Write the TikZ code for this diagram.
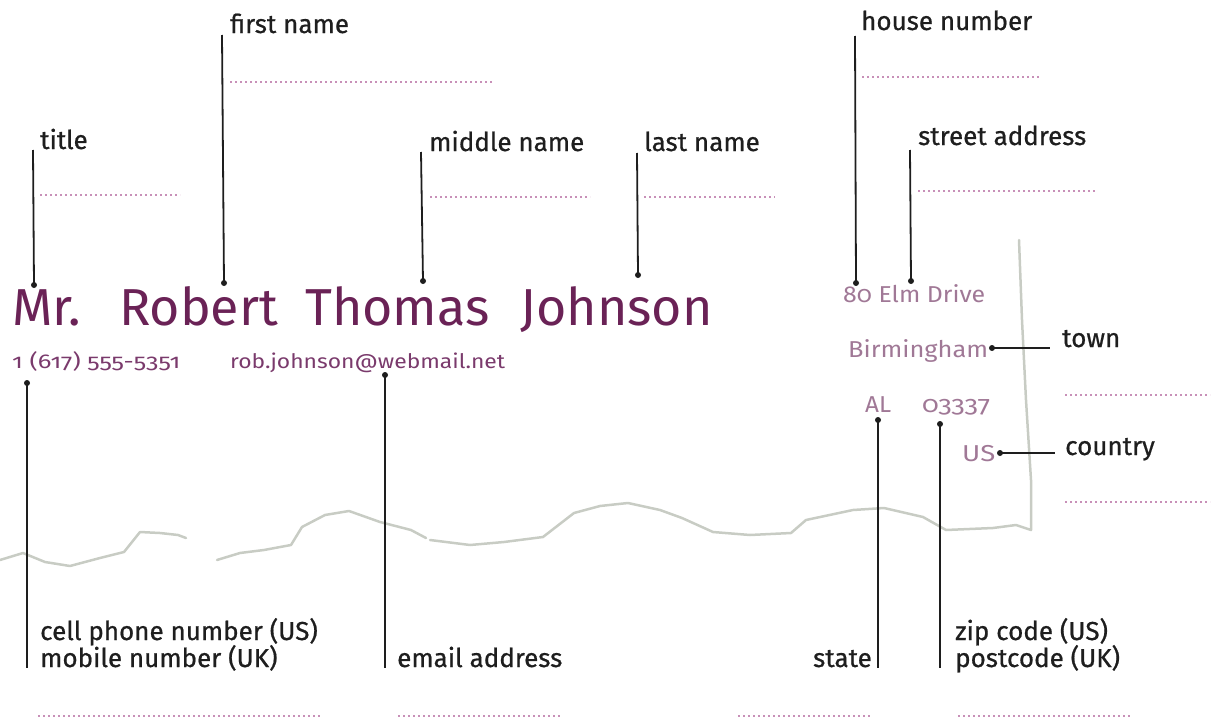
\documentclass[tikz,border=0pt]{standalone}
\usepackage{fontspec}
\setmainfont{Fira Sans}
\newfontfamily\osf[Numbers=OldStyle]{Fira Sans}
\newfontfamily\lblfont[FakeBold=0.7]{Fira Sans}
\definecolor{ink}{HTML}{1E1E1E}
\definecolor{namecol}{HTML}{6A2256}
\definecolor{smallcol}{HTML}{7A3A6C}
\definecolor{addrcol}{HTML}{A07896}
\definecolor{dotcol}{HTML}{C890B8}
\definecolor{papercol}{HTML}{C8CCC4}
\newcommand{\hstretch}[2]{\resizebox{#1}{\height}{#2}}
\begin{document}
\begin{tikzpicture}[x=1pt,y=-1pt,
  lbl/.style={anchor=base west,inner sep=0pt,font=\lblfont\fontsize{26}{28}\selectfont,text=ink},
  lblr/.style={anchor=base east,inner sep=0pt,font=\lblfont\fontsize{26}{28}\selectfont,text=ink},
  lead/.style={draw=ink,line width=1.8pt},
  dotmark/.style={circle,fill=ink,inner sep=0pt,minimum size=6pt},
  fillline/.style={draw=dotcol,line width=2pt,dash pattern=on 1.6pt off 3.4pt},
  bigname/.style={anchor=base west,inner sep=0pt,font=\fontsize{52}{56}\selectfont,text=namecol},
  small/.style={anchor=base west,inner sep=0pt,font=\osf\fontsize{20}{22}\selectfont,text=smallcol},
  addr/.style={anchor=base west,inner sep=0pt,font=\osf\fontsize{23}{26}\selectfont,text=addrcol},
  paper/.style={draw=papercol,line width=2.5pt,line join=round,line cap=round}
]
\useasboundingbox (0,0) rectangle (1216,720);

% paper edges
\draw[paper] (0,560) -- (23,553) -- (45,562) -- (70,566) -- (100,558) -- (124,552) -- (140,532) -- (160,533) -- (178,535) -- (186,538);
\draw[paper] (217,560) -- (240,553) -- (264,550) -- (291,545) -- (302,527) -- (325,515) -- (349,511) -- (380,522) -- (411,530) -- (426,538);
\draw[paper] (430,540) -- (470,545) -- (504,542) -- (543,537) -- (574,513) -- (600,506) -- (628,503) -- (660,510) -- (682,518) -- (713,532) -- (750,535) -- (791,533) -- (806,520) -- (853,510) -- (884,508) -- (923,517) -- (946,530) -- (993,528) -- (1016,525) -- (1031,530) -- (1031,480) -- (1026,400) -- (1022,320) -- (1019,240);

% main texts
\node[bigname] (name) at (12,325) {Mr.\hspace{38pt}Robert\hspace{27pt}Thomas\hspace{31pt}Johnson};
\node[small] (phone) at (12,368) {\hstretch{168pt}{1 (617) 555-5351}};
\node[small] (email) at (230,368) {\hstretch{275pt}{rob.johnson@webmail.net}};
\node[addr] (street) at (843,302) {\hstretch{142pt}{80 Elm Drive}};
\node[addr] (townv) at (848,357) {\hstretch{140pt}{Birmingham}};
\node[addr] (statev) at (865,412) {\hstretch{26pt}{AL}};
\node[addr] (zipv) at (922,412) {\hstretch{68pt}{03337}};
\node[addr] (countryv) at (962,461) {\hstretch{33pt}{US}};

% labels
\node[lbl] (ltitle) at (40,149) {title};
\node[lbl] (lfirst) at (230,33) {first name};
\node[lbl] (lmiddle) at (429,151) {middle name};
\node[lbl] (llast) at (644,151) {last name};
\node[lbl] (lhouse) at (861,30) {house number};
\node[lbl] (lstreet) at (918,145) {street address};
\node[lbl] (ltown) at (1062,347) {town};
\node[lbl] (lcountry) at (1065,455) {country};
\node[lbl] (lcell) at (40,640) {cell phone number (US)};
\node[lbl] (lmobile) at (40,667) {mobile number (UK)};
\node[lbl] (lemail) at (397,667) {email address};
\node[lblr] (lstate) at (872,667) {state};
\node[lbl] (lzip) at (955,640) {zip code (US)};
\node[lbl] (lpost) at (955,667) {postcode (UK)};

% dots (targets)
\node[dotmark] (dtitle) at (34,285) {};
\node[dotmark] (dfirst) at (224,283) {};
\node[dotmark] (dmiddle) at (423,281) {};
\node[dotmark] (dlast) at (638,275) {};
\node[dotmark] (dhouse) at (856,283) {};
\node[dotmark] (dstreet) at (911,281) {};
\node[dotmark] (dtown) at (992,348) {};
\node[dotmark] (dcountry) at (1000,453) {};
\node[dotmark] (dphone) at (27,383) {};
\node[dotmark] (demail) at (385,375) {};
\node[dotmark] (dstate) at (878,420) {};
\node[dotmark] (dzip) at (940,424) {};

% leader ends
\coordinate (ttitle) at (33,150);
\coordinate (tfirst) at (222,35);
\coordinate (tmiddle) at (421,152);
\coordinate (tlast) at (637,153);
\coordinate (thouse) at (855,36);
\coordinate (tstreet) at (910,150);
\coordinate (ttown) at (1050,348);
\coordinate (tcountry) at (1055,453);
\coordinate (tphone) at (27,668);
\coordinate (temail) at (385,668);
\coordinate (tstate) at (878,668);
\coordinate (tzip) at (940,668);

\draw[lead] (ttitle) -- (dtitle.center);
\draw[lead] (tfirst) -- (dfirst.center);
\draw[lead] (tmiddle) -- (dmiddle.center);
\draw[lead] (tlast) -- (dlast.center);
\draw[lead] (thouse) -- (dhouse.center);
\draw[lead] (tstreet) -- (dstreet.center);
\draw[lead] (dtown.center) -- (ttown);
\draw[lead] (dcountry.center) -- (tcountry);
\draw[lead] (dphone.center) -- (tphone);
\draw[lead] (demail.center) -- (temail);
\draw[lead] (dstate.center) -- (tstate);
\draw[lead] (dzip.center) -- (tzip);

% fill-in dotted lines
\draw[fillline] (40,195) -- (180,195);
\draw[fillline] (230,82) -- (492,82);
\draw[fillline] (430,197) -- (590,197);
\draw[fillline] (644,197) -- (775,197);
\draw[fillline] (862,77) -- (1040,77);
\draw[fillline] (918,191) -- (1095,191);
\draw[fillline] (1065,395) -- (1210,395);
\draw[fillline] (1065,502) -- (1210,502);
\draw[fillline] (38,716) -- (320,716);
\draw[fillline] (398,716) -- (560,716);
\draw[fillline] (738,716) -- (870,716);
\draw[fillline] (958,716) -- (1130,716);
\end{tikzpicture}
\end{document}
